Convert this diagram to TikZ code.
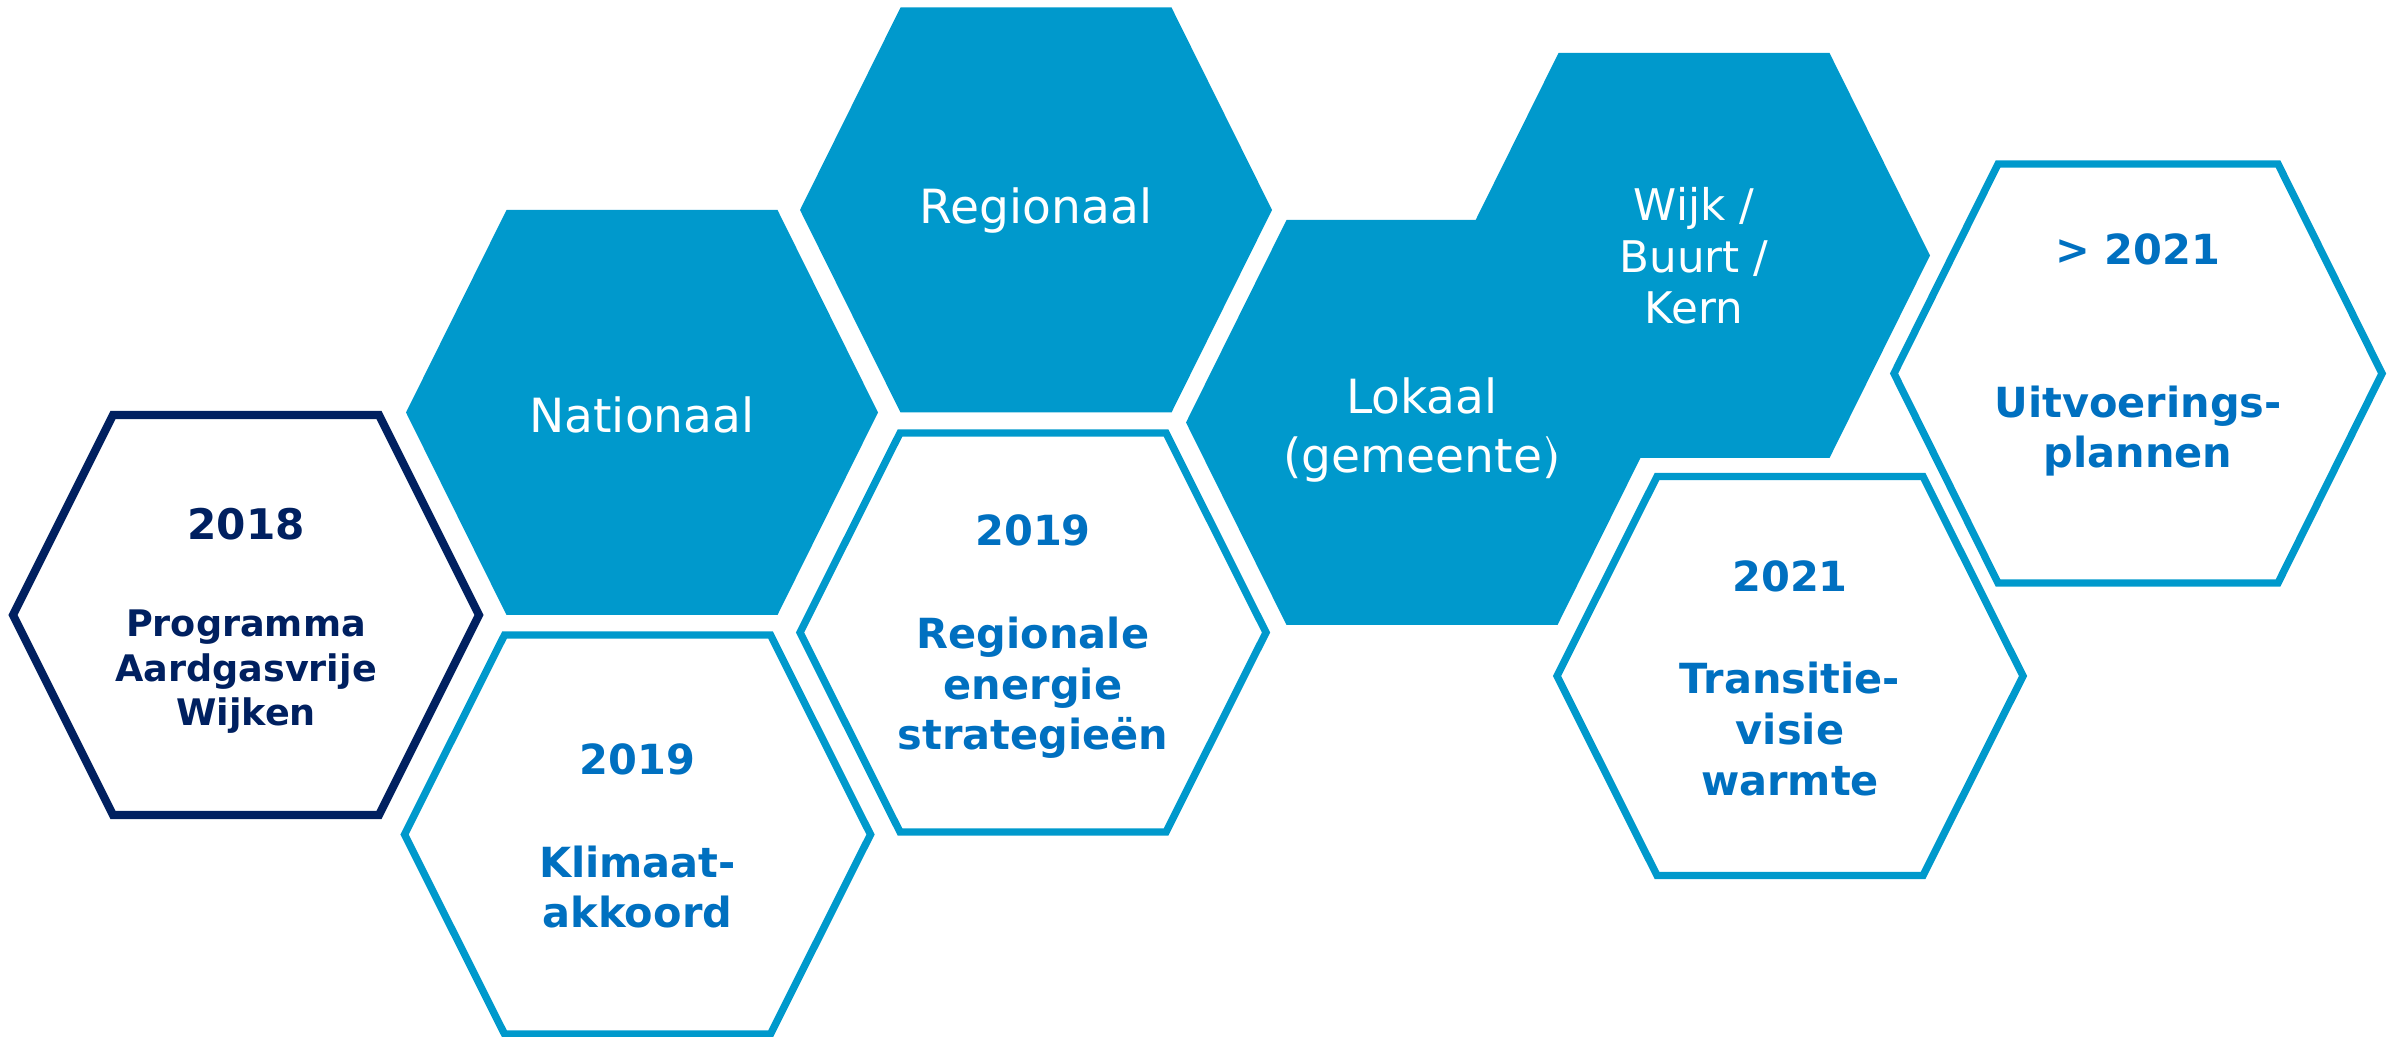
\documentclass[tikz,border=0pt]{standalone}
\usepackage{fontspec}
\setmainfont{DejaVu Sans}
\usepackage{tikz}
\usepackage{xcolor}
\definecolor{hexblue}{HTML}{0099CC}
\definecolor{navy}{HTML}{002060}
\definecolor{txtblue}{HTML}{0070C0}
% hexagon: style, centre, half width, half top edge, half height
\newcommand\hexagon[5]{\path[#1] (#2) ++(-#3,0) -- ++({#3-#4},-#5) -- ++({2*#4},0)
  -- ++({#3-#4},#5) -- ++({#4-#3},#5) -- ++({-2*#4},0) -- cycle;}
\tikzstyle{filled hex}=[fill=hexblue]
\tikzstyle{outline hex}=[draw=hexblue,line width=2.1pt]
\tikzstyle{navy hex}=[draw=navy,line width=2.3pt]
\tikzstyle{level}=[text=white,align=center,inner sep=0pt,font=\fontsize{13.4}{16.5}\selectfont]
\tikzstyle{milestone}=[text=txtblue,align=center,inner sep=0pt,font=\bfseries\fontsize{11.8}{14.4}\selectfont]

\begin{document}
\begin{tikzpicture}[x=0.01cm,y=-0.01cm]
  \useasboundingbox (0,0) rectangle (2397,1037);
  \coordinate (A) at (246,615);
  \coordinate (B) at (642,412.5);
  \coordinate (C) at (637.5,834.5);
  \coordinate (D) at (1036,210);
  \coordinate (E) at (1033,632.5);
  \coordinate (F) at (1422,422.5);
  \coordinate (G) at (1694,255.5);
  \coordinate (H) at (1790,676);
  \coordinate (I) at (2138,373.5);

  \hexagon{navy hex}{A}{233}{133}{200}
  \node[milestone,text=navy,font=\bfseries\fontsize{10.4}{12.7}\selectfont] (programma) at (246,621)
    {{\fontsize{12}{14}\selectfont 2018}\\[14.9pt]Programma\\Aardgasvrije\\Wijken};

  \hexagon{filled hex}{B}{236}{135.5}{202.5}
  \node[level] (nationaal) at (642,415) {Nationaal};

  \hexagon{outline hex}{C}{233}{133}{199.5}
  \node[milestone] (akkoord) at (637.5,836) {2019\\[14.8pt]Klimaat-\\akkoord};

  \hexagon{filled hex}{D}{236}{135.5}{202.5}
  \node[level] (regionaal) at (1036,211) {Regionaal};

  \hexagon{outline hex}{E}{233}{133}{199.5}
  \node[milestone] (res) at (1033,637) {2019\\[14.8pt]Regionale\\energie\\strategieën};

  \hexagon{filled hex}{F}{236}{135.5}{202.5}
  \node[level] (lokaal) at (1422,430) {Lokaal\\(gemeente)};

  \hexagon{filled hex}{G}{236}{135.5}{202.5}
  \node[level,font=\fontsize{12.4}{14.6}\selectfont] (wijk) at (1694,256) {Wijk /\\Buurt /\\Kern};

  \hexagon{outline hex}{H}{233}{133}{199.5}
  \node[milestone] (transitie) at (1790,678) {2021\\[14.8pt]Transitie-\\visie\\warmte};

  \hexagon{outline hex}{I}{244}{140}{209.5}
  \node[milestone] (uitvoering) at (2138,355) {> 2021\\[29pt]Uitvoerings-\\plannen};
\end{tikzpicture}
\end{document}
